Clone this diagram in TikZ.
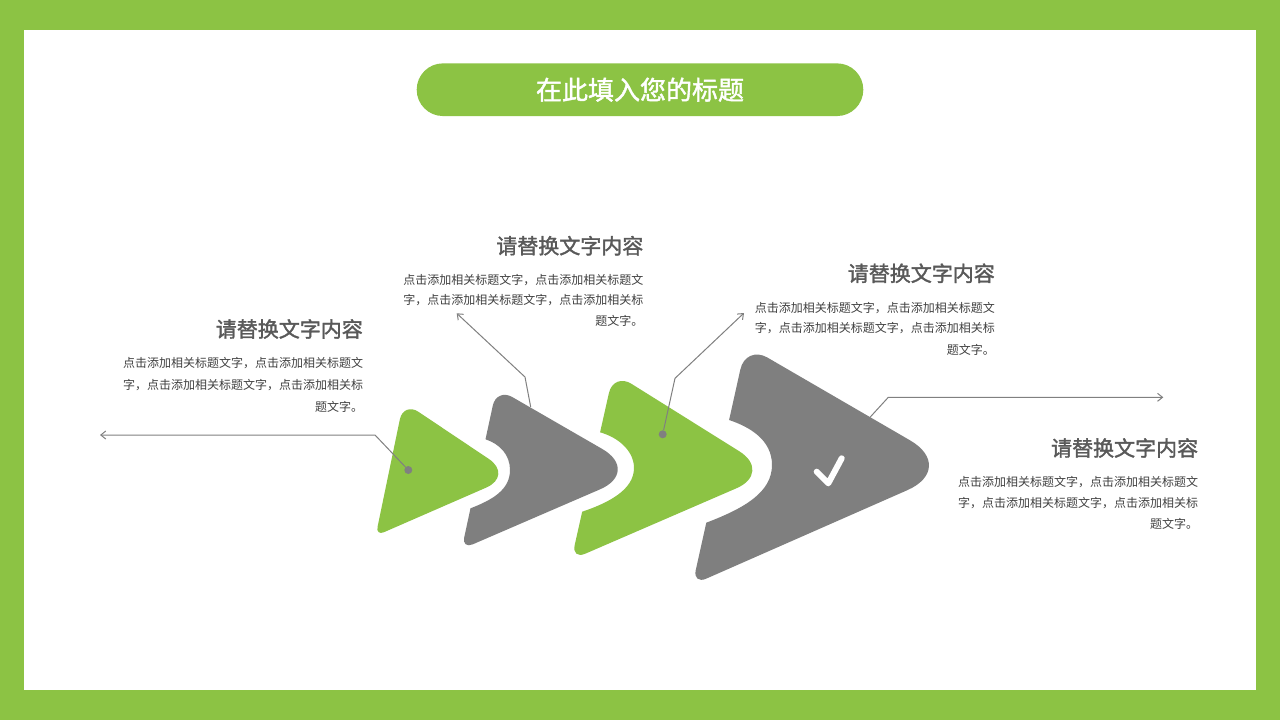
\documentclass[tikz,border=0pt]{standalone}
\usepackage{fontspec}
\newfontfamily\cjk{Noto Sans CJK SC}
\newfontfamily\cjkh{Noto Sans CJK SC}[FakeBold=1.6]
\usetikzlibrary{calc,arrows.meta}
\definecolor{bgreen}{RGB}{140,195,68}
\definecolor{sgray}{RGB}{127,127,127}
\definecolor{lgray}{RGB}{128,128,128}
\definecolor{txtdark}{RGB}{89,89,89}
\definecolor{txtbody}{RGB}{64,64,64}
\newcommand{\mkcorner}[5]{%
  \coordinate (#1a) at ($(#3)!#5!(#2)$);
  \coordinate (#1b) at ($(#3)!#5!(#4)$);
  \coordinate (#1c) at ($(#1a)!0.55!(#3)$);
  \coordinate (#1d) at ($(#1b)!0.55!(#3)$);}
\tikzset{
  heading/.style={anchor=east, inner sep=0pt, font=\cjkh\fontsize{21}{24}\selectfont, text=txtdark},
  body/.style={anchor=east, inner sep=0pt, font=\cjk\fontsize{12}{14}\selectfont, text=txtbody},
  conn/.style={draw=lgray, line width=1pt},
  arr/.style={conn, -{Straight Barb[length=5pt,width=8pt]}},
  dot/.style={circle, fill=lgray, minimum size=8pt, inner sep=0pt},
  titlepill/.style={fill=bgreen, rounded corners=26.3pt, minimum width=446.6pt, minimum height=52.7pt, inner sep=0pt, text=white, font=\cjkh\fontsize{26}{30}\selectfont},
}
\begin{document}
\begin{tikzpicture}[x=1pt,y=-1pt]
\useasboundingbox (0,0) rectangle (1280,720);
\fill[bgreen] (0,0) rectangle (1280,720);
\fill[white] (24,30) rectangle (1256,690);
\node[titlepill] (title) at (640,89.7) {在此填入您的标题};

% vertices
\coordinate (T1v) at (403.5,401.8); \coordinate (R1v) at (513.7,475.6); \coordinate (B1v) at (375.7,535.8);
\coordinate (T2v) at (496.6,388); \coordinate (R2v) at (641.3,471.5); \coordinate (B2v) at (461.7,549.1);
\coordinate (N21) at (485.5,439.3); \coordinate (N22) at (470.5,508.3);
\coordinate (T3v) at (613.5,372.6); \coordinate (R3v) at (773.1,472.4); \coordinate (B3v) at (571.4,559.7);
\coordinate (N31) at (600.1,432.3); \coordinate (N32) at (582.2,511.7);
\coordinate (T4v) at (745.8,345); \coordinate (R4v) at (957.7,468); \coordinate (B4v) at (692.5,584.7);
\coordinate (N41) at (729.1,420); \coordinate (N42) at (706.3,522.7);

\mkcorner{T1}{B1v}{T1v}{R1v}{18pt}
\mkcorner{R1}{T1v}{R1v}{B1v}{30pt}
\mkcorner{B1}{R1v}{B1v}{T1v}{9pt}
\mkcorner{T2}{N21}{T2v}{R2v}{18pt}
\mkcorner{R2}{T2v}{R2v}{B2v}{45pt}
\mkcorner{B2}{R2v}{B2v}{N22}{12pt}
\mkcorner{T3}{N31}{T3v}{R3v}{21pt}
\mkcorner{R3}{T3v}{R3v}{B3v}{40pt}
\mkcorner{B3}{R3v}{B3v}{N32}{15pt}
\mkcorner{T4}{N41}{T4v}{R4v}{25pt}
\mkcorner{R4}{T4v}{R4v}{B4v}{55pt}
\mkcorner{B4}{R4v}{B4v}{N42}{15pt}

% shapes
\fill[bgreen] (T1b) -- (R1a) .. controls (R1c) and (R1d) .. (R1b) -- (B1a) .. controls (B1c) and (B1d) .. (B1b)
  -- (T1a) .. controls (T1c) and (T1d) .. (T1b) -- cycle;
\fill[sgray] (T2b) -- (R2a) .. controls (R2c) and (R2d) .. (R2b) -- (B2a) .. controls (B2c) and (B2d) .. (B2b)
  -- (N22) .. controls (492,500) and (510,490) .. (510,470) .. controls (510,455) and (500,444) .. (N21)
  -- (T2a) .. controls (T2c) and (T2d) .. (T2b) -- cycle;
\fill[bgreen] (T3b) -- (R3a) .. controls (R3c) and (R3d) .. (R3b) -- (B3a) .. controls (B3c) and (B3d) .. (B3b)
  -- (N32) .. controls (608,503) and (634,490) .. (634,468) .. controls (634,452) and (620,438) .. (N31)
  -- (T3a) .. controls (T3c) and (T3d) .. (T3b) -- cycle;
\fill[sgray] (T4b) -- (R4a) .. controls (R4c) and (R4d) .. (R4b) -- (B4a) .. controls (B4c) and (B4d) .. (B4b)
  -- (N42) .. controls (745,508) and (772,492) .. (772,465) .. controls (772,440) and (750,427) .. (N41)
  -- (T4a) .. controls (T4c) and (T4d) .. (T4b) -- cycle;

% check mark
\draw[white, line width=6pt, line cap=round, line join=round] (816.7,471.7) -- (828.3,483.3) -- (841.7,458.3);

% connectors
\node[dot] (d1) at (408.3,470) {};
\coordinate (e1) at (375,435); \coordinate (a1) at (100,435);
\draw[arr] (d1) -- (e1) -- (a1);
\coordinate (s2) at (530.7,407); \coordinate (e2) at (525,377); \coordinate (a2) at (456.7,313.3);
\draw[arr] (s2) -- (e2) -- (a2);
\node[dot] (d3) at (662.7,434.3) {};
\coordinate (e3) at (675,378.3); \coordinate (a3) at (744,313);
\draw[arr] (d3) -- (e3) -- (a3);
\coordinate (s4) at (870,417.3); \coordinate (e4) at (888.3,397.3); \coordinate (a4) at (1163.3,397.3);
\draw[arr] (s4) -- (e4) -- (a4);

% text block 1
\node[heading] (h1) at (363,329) {请替换文字内容};
\node[body] (p1a) at (363.3,363.3) {点击添加相关标题文字，点击添加相关标题文};
\node[body] (p1b) at (363.3,385) {字，点击添加相关标题文字，点击添加相关标};
\node[body] (p1c) at (363.3,406.7) {题文字。};
% text block 2
\node[heading] (h2) at (643.5,245.7) {请替换文字内容};
\node[body] (p2a) at (643.5,280) {点击添加相关标题文字，点击添加相关标题文};
\node[body] (p2b) at (643.5,300.5) {字，点击添加相关标题文字，点击添加相关标};
\node[body] (p2c) at (643.5,321) {题文字。};
% text block 3
\node[heading] (h3) at (995,273.3) {请替换文字内容};
\node[body] (p3a) at (995,308.5) {点击添加相关标题文字，点击添加相关标题文};
\node[body] (p3b) at (995,328.5) {字，点击添加相关标题文字，点击添加相关标};
\node[body] (p3c) at (995,349.5) {题文字。};
% text block 4
\node[heading] (h4) at (1198.3,448) {请替换文字内容};
\node[body] (p4a) at (1198.3,481.7) {点击添加相关标题文字，点击添加相关标题文};
\node[body] (p4b) at (1198.3,502.7) {字，点击添加相关标题文字，点击添加相关标};
\node[body] (p4c) at (1198.3,524) {题文字。};
\end{tikzpicture}
\end{document}
